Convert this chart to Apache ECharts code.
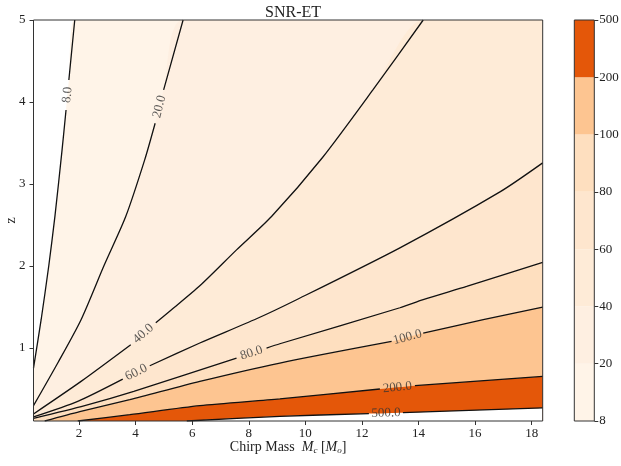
<!DOCTYPE html>
<html><head><meta charset="utf-8">
<script src="https://cdn.jsdelivr.net/npm/echarts@6/dist/echarts.min.js"></script>
<style>html,body{margin:0;padding:0;background:#fff}#c{width:621px;height:466px}</style>
</head><body><div id="c"></div>
<script>
// ---- data ----
const xMin = 0.39, xMax = 18.39, yMin = 0.11, yMax = 5;
const xTicks = [2, 4, 6, 8, 10, 12, 14, 16, 18];
const yTicks = [1, 2, 3, 4, 5];
const levels = [8, 20, 40, 60, 80, 100, 200, 500];
const bandColors = ['#fff4e8', '#feefe1', '#feebd7', '#fee6ce', '#fedfbf', '#fdc591', '#e45709'];
// contour lines: [chirp mass, z]; null = gap where the inline label sits
const c8 = [[0.39,0.756],[0.66,1.345],[0.93,2.003],[1.146,2.603],[1.40,3.416],[1.54,3.903],null,[1.64,4.269],[1.848,5.0]];
const c20 = [[0.39,0.297],[1.247,0.817],[2.071,1.345],[2.88,2.003],[3.65,2.603],[4.32,3.294],[4.69,3.741],null,[4.99,4.147],[5.678,5.0]];
const c40 = [[0.39,0.196],[2.071,0.593],[3.828,1.040],null,[4.713,1.308],[5.268,1.467],[6.269,1.759],[7.567,2.197],[8.804,2.603],[10.60,3.32],[12.387,4.147],[14.166,5.0]];
const c60 = [[0.39,0.159],[1.954,0.349],[3.545,0.620],null,[4.500,0.784],[6.269,1.061],[8.274,1.357],[9.689,1.589],[13.342,2.222],[16.879,2.904],[18.39,3.258]];
const c80 = [[0.39,0.142],[2.202,0.297],[3.935,0.471],[7.567,0.878],null,[8.628,1.0],[9.098,1.052],[13.342,1.491],[14.166,1.589],[15.701,1.751],[18.39,2.043]];
const c100 = [[0.787,0.11],[2.025,0.224],[3.793,0.370],[6.269,0.593],[9.098,0.817],[13.049,1.080],null,[14.166,1.183],[16.289,1.345],[18.39,1.500]];
const c200 = [[1.954,0.11],[3.793,0.187],[6.269,0.297],[9.098,0.379],[12.635,0.500],null,[13.873,0.541],[18.39,0.654]];
const c500 = [[5.809,0.11],[9.098,0.167],[12.246,0.200],null,[13.449,0.212],[18.39,0.269]];
const contours = [c8, c20, c40, c60, c80, c100, c200, c500];

// ---- chart ----
const FONT = 'Liberation Serif';
const TXT = '#222';
const SMOOTH = 0.25;
const chart = echarts.init(document.getElementById('c'), null, {renderer: 'canvas'});

const series = [];
// filled regions (SNR >= level), drawn from low to high level
contours.forEach((c, i) => {
  const pts = c.filter(p => p);
  const last = pts[pts.length - 1];
  if (last[1] >= yMax - 1e-9) pts.push([xMax, yMax]);
  series.push({
    type: 'line', xAxisIndex: 0, yAxisIndex: 0, data: pts, symbol: 'none', silent: true,
    smooth: SMOOTH,
    lineStyle: {width: 0, opacity: 0},
    areaStyle: {color: i < bandColors.length ? bandColors[i] : '#ffffff', opacity: 1, origin: 'start'},
    z: 2, animation: false
  });
});
// contour strokes
contours.forEach(c => {
  series.push({
    type: 'line', xAxisIndex: 0, yAxisIndex: 0, symbol: 'none', silent: true,
    smooth: SMOOTH,
    data: c.map(p => p ? p : ['-', '-']), connectNulls: false,
    lineStyle: {color: '#111', width: 1.3}, z: 3, animation: false
  });
});
// colorbar
bandColors.forEach(col => {
  series.push({
    type: 'bar', xAxisIndex: 1, yAxisIndex: 1, stack: 'cb', data: [1], barWidth: '100%',
    itemStyle: {color: col}, silent: true, animation: false
  });
});

const option = {
  animation: false,
  backgroundColor: '#fff',
  title: {
    text: 'SNR-ET', left: 288, top: 0, textAlign: 'center',
    textStyle: {fontFamily: FONT, fontSize: 16, fontWeight: 'normal', color: TXT}
  },
  grid: [
    {left: 33.5, top: 20, width: 509.2, height: 401, show: true, borderColor: '#333', borderWidth: 1,
     backgroundColor: 'transparent', z: 10, containLabel: false, outerBoundsMode: 'none'},
    {left: 574.3, top: 20, width: 20, height: 401, show: true, borderColor: '#333', borderWidth: 1,
     backgroundColor: 'transparent', z: 10, containLabel: false, outerBoundsMode: 'none'}
  ],
  xAxis: [
    {
      type: 'value', gridIndex: 0, min: xMin, max: xMax,
      axisLine: {show: false}, splitLine: {show: false},
      axisTick: {show: true, length: 4, lineStyle: {color: '#333'}, customValues: xTicks},
      axisLabel: {customValues: xTicks, fontFamily: FONT, fontSize: 13, color: TXT, margin: 6},
      name: 'Chirp Mass  {it|M}{sub|c} [{it|M}{sub|o}]', nameLocation: 'middle', nameGap: 19,
      nameMoveOverlap: false,
      nameTextStyle: {
        fontFamily: FONT, fontSize: 14, color: TXT,
        rich: {
          it: {fontFamily: FONT, fontSize: 14, fontStyle: 'italic', color: TXT},
          sub: {fontFamily: FONT, fontSize: 9, fontStyle: 'italic', color: TXT, padding: [6, 0, 0, 0]}
        }
      }
    },
    {type: 'category', gridIndex: 1, data: [''], show: false}
  ],
  yAxis: [
    {
      type: 'value', gridIndex: 0, min: yMin, max: yMax,
      axisLine: {show: false}, splitLine: {show: false},
      axisTick: {show: true, length: 4, lineStyle: {color: '#333'}, customValues: yTicks},
      axisLabel: {customValues: yTicks, fontFamily: FONT, fontSize: 13, color: TXT, margin: 8},
      name: 'z', nameLocation: 'middle', nameGap: 15, nameRotate: 90, nameMoveOverlap: false,
      nameTextStyle: {fontFamily: FONT, fontSize: 14, color: TXT}
    },
    {
      type: 'value', gridIndex: 1, min: 0, max: levels.length - 1, interval: 1, position: 'right',
      axisLine: {show: false}, splitLine: {show: false},
      axisTick: {show: true, length: 4, lineStyle: {color: '#333'}},
      axisLabel: {fontFamily: FONT, fontSize: 13, color: TXT, margin: 5, formatter: v => String(levels[v])}
    }
  ],
  series: series
};
chart.setOption(option);

// inline contour labels, placed in each line's gap and rotated along it
const labelData = [];
contours.forEach((c, i) => {
  const k = c.indexOf(null);
  if (k < 0) return;
  const a = c[k - 1], b = c[k + 1];
  const pa = chart.convertToPixel({gridIndex: 0}, a);
  const pb = chart.convertToPixel({gridIndex: 0}, b);
  const ang = Math.atan2(pa[1] - pb[1], pb[0] - pa[0]) * 180 / Math.PI;
  labelData.push({
    value: [(a[0] + b[0]) / 2, (a[1] + b[1]) / 2],
    label: {formatter: levels[i].toFixed(1), rotate: ang}
  });
});
series.push({
  type: 'scatter', xAxisIndex: 0, yAxisIndex: 0, data: labelData, symbolSize: 0, silent: true, z: 4,
  label: {show: true, position: 'inside', fontFamily: FONT, fontSize: 13, color: '#333', align: 'center', verticalAlign: 'middle'}
});
chart.setOption({series: series});
</script>
</body></html>
